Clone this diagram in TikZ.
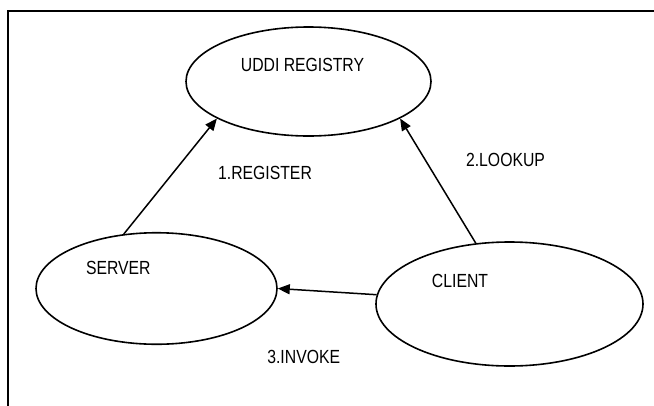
\documentclass[tikz,border=0pt]{standalone}
\usepackage{fontspec}
\setmainfont{Liberation Sans}[FakeStretch=0.83]
\usetikzlibrary{shapes,arrows.meta}
\tikzset{
  entity/.style={draw, ellipse, line width=1.6pt, inner sep=0pt},
  caption/.style={font=\fontsize{19}{23}\selectfont, inner sep=0pt},
  link/.style={->, line width=1.5pt},
}

\begin{document}
\begin{tikzpicture}[x=1pt,y=-1pt,>={Triangle[length=12pt,width=10pt]}]
\useasboundingbox (0,0) rectangle (654,405);
\clip (0,0) rectangle (654,405);

% to draw outer frame
\draw [line width=2.2pt] (8.3,10.7) rectangle (700,450);

% to draw entities
\node [entity, minimum width=245pt, minimum height=109pt] (registry) at (308.5,81.5) {};
\node [entity, minimum width=241pt, minimum height=111.5pt] (server) at (156.5,288.5) {};
\node [entity, minimum width=267pt, minimum height=124pt] (client) at (509.5,304) {};

% to write entity names
\node [caption] (registryname) at (302.5,64.5) {UDDI REGISTRY};
\node [caption] (servername) at (118.3,268.3) {SERVER};
\node [caption] (clientname) at (460,281) {CLIENT};

% to draw arrows with text
\draw [link] (server.121) -- (registry.202);
\node [caption] (register) at (265,173) {1.REGISTER};
\draw [link] (client.119) -- (registry.338);
\node [caption] (lookup) at (505.5,160) {2.LOOKUP};
\draw [link] (client.176) -- (server.0);
\node [caption] (invoke) at (303.7,357) {3.INVOKE};
\end{tikzpicture}
\end{document}
